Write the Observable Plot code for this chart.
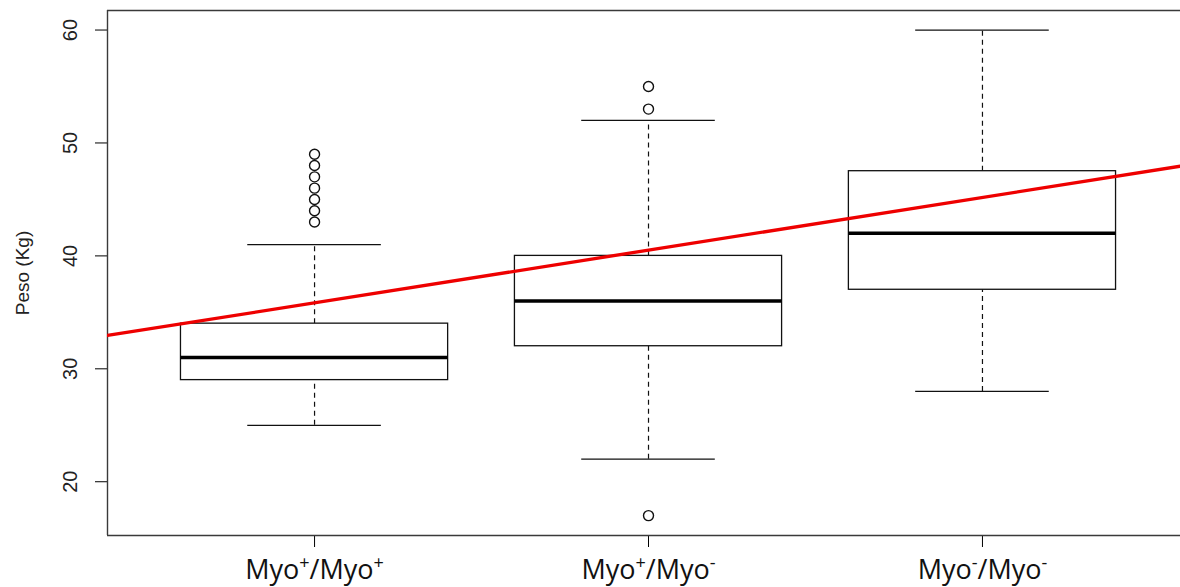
<!DOCTYPE html>
<html>
<head>
<meta charset="utf-8">
<script src="https://cdn.jsdelivr.net/npm/d3@7"></script>
<script src="https://cdn.jsdelivr.net/npm/@observablehq/plot@0.6"></script>
<style>
  html, body { margin: 0; padding: 0; background: #fff; overflow: hidden; }
</style>
</head>
<body>
<div id="chart"></div>
<script>
// ---- data ----
const groups = [1, 2, 3];
const xLabels = ["Myo⁺/Myo⁺", "Myo⁺/Myo⁻", "Myo⁻/Myo⁻"];
const lowerWhisker = [25, 22, 28];
const q1 = [29, 32, 37];
const median = [31, 36, 42];
const q3 = [34, 40, 47.5];
const upperWhisker = [41, 52, 60];
const outlierGroup = [1, 1, 1, 1, 1, 1, 1, 2, 2, 2];
const outlierValue = [43, 44, 45, 46, 47, 48, 49, 53, 55, 17];
const yTicks = [20, 30, 40, 50, 60];
const yLabel = "Peso (Kg)";
const regIntercept = 31.18;
const regSlope = 4.665;

// ---- build tables ----
const xDomain = [0.38, 3.593];
const yDomain = [15.24, 61.73];
const boxHalf = 0.4, capHalf = 0.2;

const boxes = groups.map((g, i) => ({
  g, lo: lowerWhisker[i], q1: q1[i], med: median[i], q3: q3[i], hi: upperWhisker[i], label: xLabels[i]
}));
const outliers = outlierGroup.map((g, i) => ({g, v: outlierValue[i]}));
const regLine = xDomain.map(x => ({x, y: regIntercept + regSlope * x}));

const ink = "#111";
const frameInk = "#3a3a3a";

const chart = Plot.plot({
  width: 1180,
  height: 587,
  marginLeft: 107,
  marginRight: 0,
  marginTop: 10,
  marginBottom: 52,
  style: {fontFamily: "Liberation Sans, Arial, sans-serif", background: "white", overflow: "visible"},
  x: {type: "linear", domain: xDomain, ticks: groups, tickSize: 12, tickFormat: () => "", label: null},
  y: {domain: yDomain, ticks: yTicks, tickSize: 12, tickFormat: () => "", label: null},
  marks: [
    // frame (top, bottom, left)
    Plot.ruleY([yDomain[1]], {stroke: frameInk, strokeWidth: 1.4}),
    Plot.ruleY([yDomain[0]], {stroke: frameInk, strokeWidth: 1.4}),
    Plot.ruleX([xDomain[0]], {stroke: frameInk, strokeWidth: 1.4}),
    // whiskers (dashed)
    Plot.ruleX(boxes, {x: "g", y1: "lo", y2: "q1", stroke: ink, strokeWidth: 1.2, strokeDasharray: "5,4"}),
    Plot.ruleX(boxes, {x: "g", y1: "q3", y2: "hi", stroke: ink, strokeWidth: 1.2, strokeDasharray: "5,4"}),
    // whisker caps
    Plot.ruleY(boxes, {y: "lo", x1: d => d.g - capHalf, x2: d => d.g + capHalf, stroke: ink, strokeWidth: 1.3}),
    Plot.ruleY(boxes, {y: "hi", x1: d => d.g - capHalf, x2: d => d.g + capHalf, stroke: ink, strokeWidth: 1.3}),
    // boxes
    Plot.rect(boxes, {x1: d => d.g - boxHalf, x2: d => d.g + boxHalf, y1: "q1", y2: "q3", fill: "white", stroke: ink, strokeWidth: 1.3}),
    // medians
    Plot.ruleY(boxes, {y: "med", x1: d => d.g - boxHalf, x2: d => d.g + boxHalf, stroke: "black", strokeWidth: 3.5}),
    // outliers
    Plot.dot(outliers, {x: "g", y: "v", r: 5, stroke: ink, fill: "none", strokeWidth: 1.4}),
    // regression line
    Plot.line(regLine, {x: "x", y: "y", stroke: "#ee0000", strokeWidth: 3.3, clip: true}),
    // y tick labels (rotated)
    Plot.text(yTicks, {y: d => d, text: d => String(d), frameAnchor: "left", textAnchor: "middle", lineAnchor: "middle",
      dx: -37, rotate: -90, fontSize: 20, fill: "#222"}),
    // y axis title
    Plot.text([yLabel], {text: d => d, frameAnchor: "left", textAnchor: "middle", lineAnchor: "middle",
      dx: -85, rotate: -90, fontSize: 19, fill: "#222"}),
    // x category labels
    Plot.text(boxes, {x: "g", text: "label", frameAnchor: "bottom", textAnchor: "middle", lineAnchor: "middle", dy: 35, fontSize: 27, fill: "#111",
      fontFamily: "Open Sans, Liberation Sans, sans-serif"})
  ]
});

document.getElementById("chart").appendChild(chart);

// Render the superscript signs of the category labels as raised tspans
const supMap = {"⁺": "+", "⁻": "-"};
d3.select(chart).selectAll("text").each(function() {
  const t = this.textContent;
  if (!xLabels.includes(t)) return;
  const sel = d3.select(this);
  sel.text(null);
  let raised = false;
  for (const ch of t) {
    if (supMap[ch]) {
      sel.append("tspan").attr("font-size", 18).attr("dy", raised ? 0 : -10).text(supMap[ch]);
      raised = true;
    } else {
      const ts = sel.append("tspan").text(ch);
      if (raised) { ts.attr("dy", 10); raised = false; }
    }
  }
});
</script>
</body>
</html>
